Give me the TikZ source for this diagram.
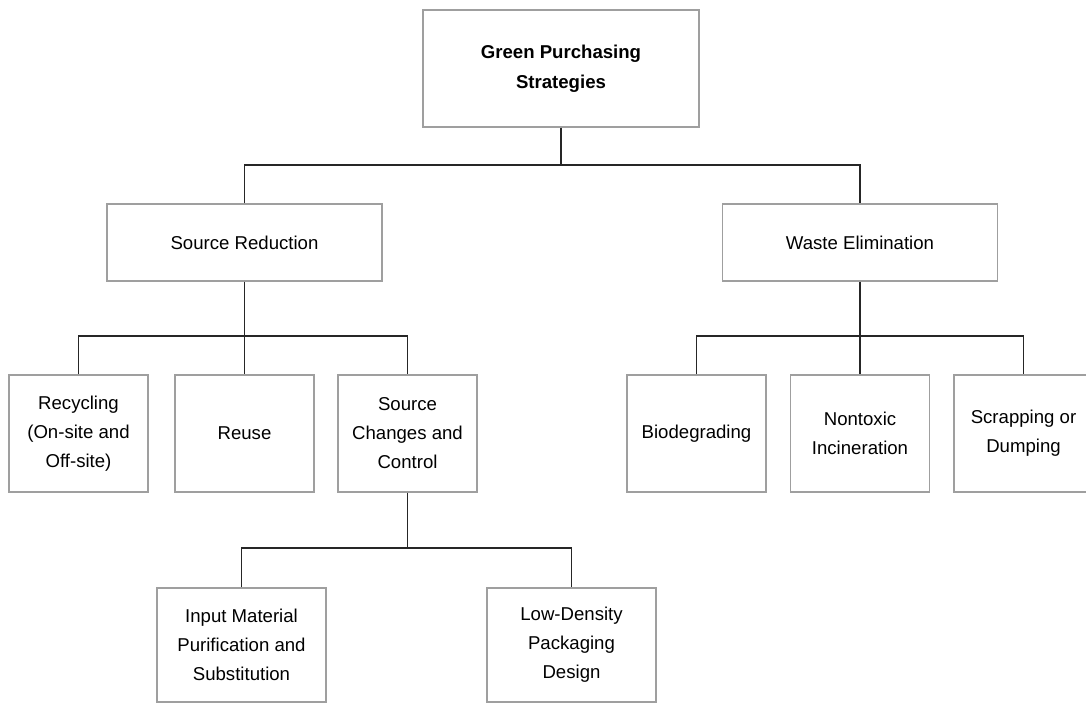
\documentclass[tikz,border=0pt]{standalone}
\usepackage{fontspec}
\setmainfont{Liberation Sans}
\usetikzlibrary{calc}
\usetikzlibrary{positioning}

\tikzset{
  box/.style={rectangle, draw=gray!75, line width=1.3pt, align=center, inner sep=0pt,
    font=\fontsize{18.6}{29}\selectfont},
  lvltwo/.style={box, minimum width=275pt, minimum height=77pt},
  lvlthree/.style={box, minimum width=139pt, minimum height=117pt},
  lvlfour/.style={box, minimum width=169pt, minimum height=114pt},
  link/.style={draw=black!85, line width=1.3pt}
}

\begin{document}
\begin{tikzpicture}[x=1pt, y=-1pt]
\useasboundingbox (0, 0) rectangle (1086, 703);
\clip (0, 0) rectangle (1086, 703);
\node [box, minimum width=276pt, minimum height=117pt, font=\bfseries\fontsize{18.6}{30}\selectfont] (GPS) at (561, 68.5) {Green Purchasing\\Strategies};
\node [lvltwo] (SR) at (244.5, 242.5) {Source Reduction};
\node [lvltwo] (WE) at (860, 242.5) {Waste Elimination};
\node [lvlthree] (Rec) at (78.5, 433.5) {Recycling\\(On-site and\\Off-site)};
\node [lvlthree] (Reu) at (244.5, 433.5) {Reuse};
\node [lvlthree] (SCC) at (407.5, 433.5) {Source\\Changes and\\Control};
\node [lvlthree] (Bio) at (696.5, 433.5) {Biodegrading};
\node [lvlthree] (NTI) at (860, 433.5) {Nontoxic\\Incineration};
\node [lvlthree] (Scr) at (1023.5, 433.5) {Scrapping or\\Dumping};
\node [lvlfour] (IMP) at (241.5, 645) {Input Material\\Purification and\\Substitution};
\node [lvlfour] (LDP) at (571.5, 645) {Low-Density\\Packaging\\Design};
\coordinate (J1) at (561, 165);
\coordinate (J2) at (244.5, 336);
\coordinate (J3) at (860, 336);
\coordinate (J4) at (407.5, 548);
\draw [link] (GPS.south) to (J1);
\draw [link] (SR.north) |- (J1) -| (WE.north);
\draw [link] (SR.south) to (J2);
\draw [link] (Rec.north) |- (J2) -| (SCC.north);
\draw [link] (J2) to (Reu.north);
\draw [link] (WE.south) to (J3);
\draw [link] (Bio.north) |- (J3) -| (Scr.north);
\draw [link] (J3) to (NTI.north);
\draw [link] (SCC.south) to (J4);
\draw [link] (IMP.north) |- (J4) -| (LDP.north);
\end{tikzpicture}
\end{document}
